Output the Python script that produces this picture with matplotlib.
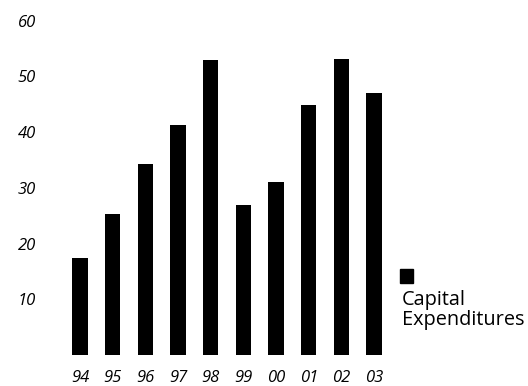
import matplotlib.pyplot as plt

# Capital expenditures by year
years = ["94", "95", "96", "97", "98", "99", "00", "01", "02", "03"]
capex = [17.5, 25.3, 34.3, 41.2, 53.0, 27.0, 31.1, 44.8, 53.1, 47.0]
y_ticks = [10, 20, 30, 40, 50, 60]

plt.rcParams['font.family'] = ['Open Sans', 'DejaVu Sans']

fig = plt.figure(figsize=(5.28, 3.86), dpi=100)
ax = fig.add_axes([0.1205, 0.0803, 0.619, 0.866])

ax.bar(range(len(years)), capex, width=0.47, color='black')
ax.set_xlim(-0.5, len(years) - 0.5)
ax.set_ylim(0, 60)

ax.set_xticks(range(len(years)))
ax.set_xticklabels(years, fontstyle='italic', fontsize=12)
ax.set_yticks(y_ticks)
ax.set_yticklabels([str(v) for v in y_ticks], fontstyle='italic', fontsize=12)
ax.tick_params(axis='y', length=0, pad=20)
ax.tick_params(axis='x', length=0, pad=11)
for s in ax.spines.values():
    s.set_visible(False)

# legend: a black square with the label under it
fig.patches.append(plt.Rectangle((400 / 528, 1 - 283 / 386), 13 / 528, 14 / 386,
                                 transform=fig.transFigure, color='black'))
fig.text(402 / 528, 1 - 290 / 386, "Capital\nExpenditures", fontsize=14.3,
         va='top', ha='left', linespacing=1.0)

fig.savefig("out.png", dpi=100)
